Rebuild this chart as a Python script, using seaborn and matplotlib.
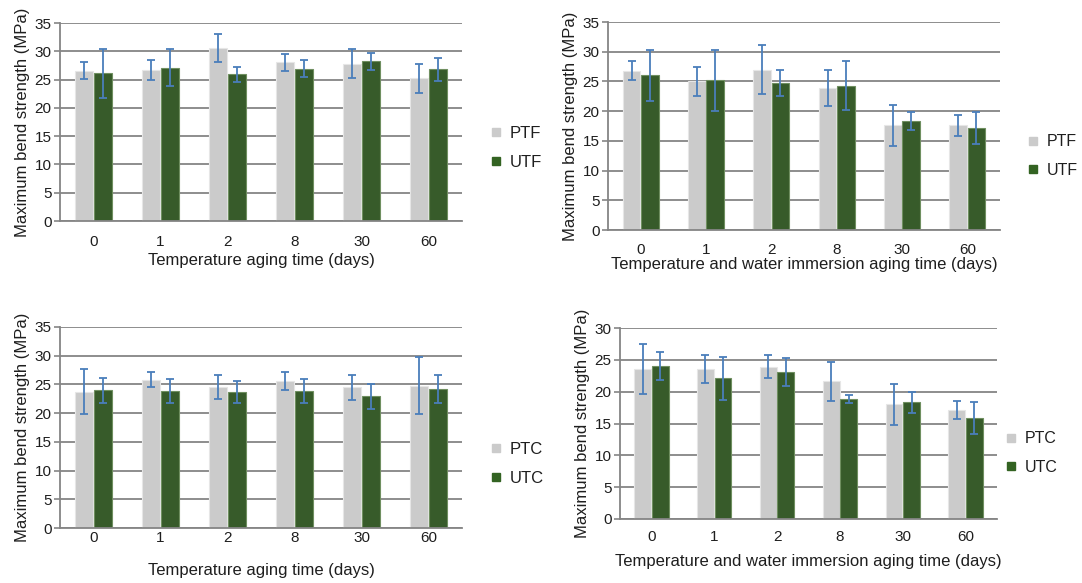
import numpy as np
import pandas as pd
import matplotlib
matplotlib.use("Agg")
import matplotlib.pyplot as plt
from matplotlib.lines import Line2D
import seaborn as sns

days = ["0", "1", "2", "8", "30", "60"]

# temperature aging, filament
ptf_temp = [26.6, 26.7, 30.6, 28.1, 27.8, 25.2]
ptf_temp_err = [1.5, 1.8, 2.5, 1.5, 2.6, 2.5]
utf_temp = [26.1, 27.1, 25.9, 26.9, 28.2, 26.8]
utf_temp_err = [4.3, 3.3, 1.4, 1.5, 1.5, 2.0]

# temperature + water immersion, filament
ptf_water = [26.8, 25.0, 27.0, 23.9, 17.6, 17.6]
ptf_water_err = [1.6, 2.4, 4.1, 3.0, 3.5, 1.7]
utf_water = [26.0, 25.2, 24.7, 24.3, 18.4, 17.2]
utf_water_err = [4.3, 5.1, 2.2, 4.1, 1.5, 2.7]

# temperature aging, composite
ptc_temp = [23.7, 25.8, 24.5, 25.6, 24.5, 24.8]
ptc_temp_err = [3.9, 1.3, 2.1, 1.6, 2.2, 5.0]
utc_temp = [24.0, 23.9, 23.7, 23.8, 22.9, 24.2]
utc_temp_err = [2.2, 2.1, 1.9, 2.1, 2.2, 2.4]

# temperature + water immersion, composite
ptc_water = [23.6, 23.5, 23.9, 21.6, 18.0, 17.1]
ptc_water_err = [3.9, 2.2, 1.8, 3.0, 3.2, 1.4]
utc_water = [24.0, 22.1, 23.1, 18.8, 18.3, 15.8]
utc_water_err = [2.2, 3.4, 2.2, 0.6, 1.7, 2.5]

GRAY = "#cbcbcb"
GREEN = "#336322"
ERR = "#4a7ebb"
GRID = "#858585"
TXT = "#1e1e1e"

plt.rcParams["font.family"] = ["Liberation Sans", "DejaVu Sans"]

W, H = 1082, 583
fig = plt.figure(figsize=(W / 100, H / 100), dpi=100)


def px_axes(left, right, top, bottom):
    return fig.add_axes([left / W, 1 - bottom / H, (right - left) / W, (bottom - top) / H])


def panel(ax, a, a_err, b, b_err, names, ymax, xlabel, xpad, lpad, leg_x, leg_y, leg_fs=12):
    df = pd.DataFrame({
        "day": days * 2,
        "val": a + b,
        "grp": [names[0]] * len(days) + [names[1]] * len(days),
    })
    sns.barplot(data=df, x="day", y="val", hue="grp", order=days, hue_order=names,
                palette=[GRAY, GREEN], width=0.56, gap=0.04, errorbar=None,
                legend=False, ax=ax, zorder=2)
    for patch, c in zip(ax.patches, [GRAY] * 6 + [GREEN] * 6):
        patch.set_edgecolor("#e6e6e6" if c == GRAY else "#6f8f60")
        patch.set_linewidth(0.8)
    for cont, errs in zip(ax.containers, [a_err, b_err]):
        xs = [p.get_x() + p.get_width() / 2 for p in cont]
        hs = [p.get_height() for p in cont]
        ax.errorbar(xs, hs, yerr=errs, fmt="none", ecolor=ERR, elinewidth=1.3,
                    capsize=3, capthick=1.3, zorder=3)
    ax.set_ylim(0, ymax)
    ax.set_yticks(np.arange(0, ymax + 1, 5))
    ax.set_xlim(-0.5, len(days) - 0.5)
    ax.grid(axis="y", color=GRID, lw=1.3, zorder=0)
    ax.set_axisbelow(True)
    for s in ["top", "right"]:
        ax.spines[s].set_visible(False)
    for s in ["left", "bottom"]:
        ax.spines[s].set_color(GRID)
        ax.spines[s].set_linewidth(1.3)
    ax.tick_params(axis="y", length=4, width=1.2, color=GRID, labelsize=11, labelcolor=TXT, pad=2)
    ax.tick_params(axis="x", length=0, labelsize=11, labelcolor=TXT, pad=xpad)
    ax.set_xlabel(xlabel, fontsize=12, color=TXT, labelpad=lpad)
    ax.set_ylabel("Maximum bend strength (MPa)", fontsize=12, color=TXT, labelpad=3)
    handles = [Line2D([], [], marker="s", ls="", color=c, markersize=6) for c in [GRAY, GREEN]]
    ax.legend(handles, names, loc="center left", bbox_to_anchor=(leg_x, leg_y), frameon=False,
              fontsize=leg_fs, handlelength=0.8, handletextpad=0.45, labelspacing=0.85,
              borderaxespad=0, borderpad=0, labelcolor=TXT)


ax1 = px_axes(60, 462, 23, 221)
panel(ax1, ptf_temp, ptf_temp_err, utf_temp, utf_temp_err, ["PTF", "UTF"], 35,
      "Temperature aging time (days)", 10, 3, 1.067, 0.37)

ax2 = px_axes(608, 1000, 22, 230)
panel(ax2, ptf_water, ptf_water_err, utf_water, utf_water_err, ["PTF", "UTF"], 35,
      "Temperature and water immersion aging time (days)", 9, 0, 1.068, 0.355, 11.5)

ax3 = px_axes(60, 462, 327, 528)
panel(ax3, ptc_temp, ptc_temp_err, utc_temp, utc_temp_err, ["PTC", "UTC"], 35,
      "Temperature aging time (days)", 2, 13, 1.067, 0.32)

ax4 = px_axes(620, 997, 328, 519)
panel(ax4, ptc_water, ptc_water_err, utc_water, utc_water_err, ["PTC", "UTC"], 30,
      "Temperature and water immersion aging time (days)", 8, 7, 1.02, 0.345, 11.5)

fig.savefig("out.png", dpi=100)
